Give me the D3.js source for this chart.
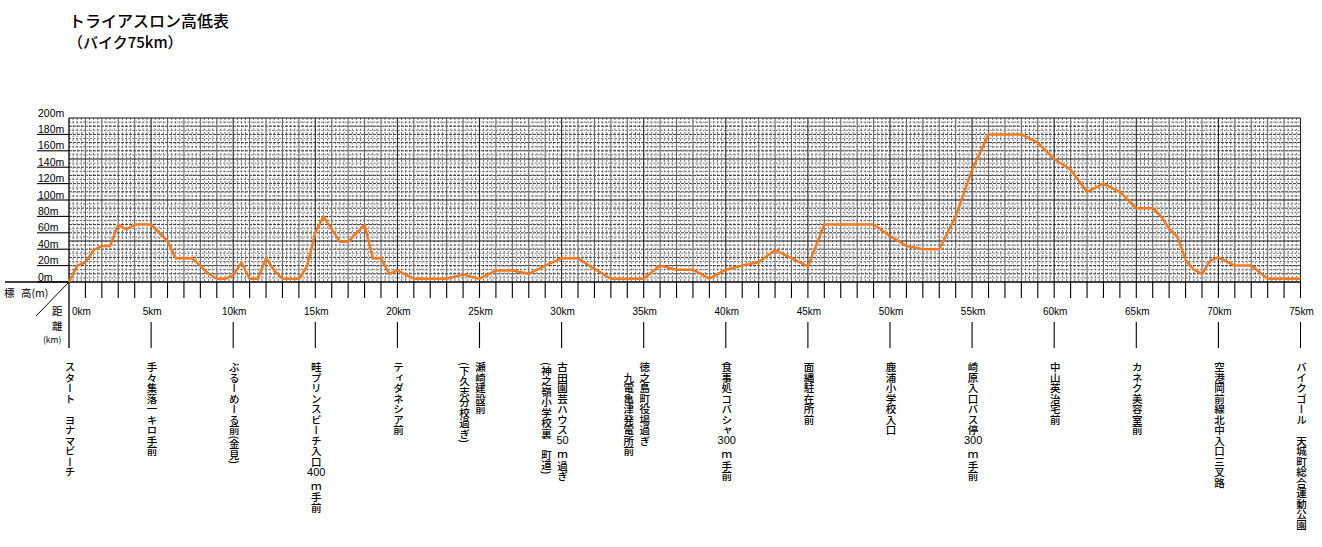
<!DOCTYPE html>
<html>
<head>
<meta charset="utf-8">
<script src="https://cdn.jsdelivr.net/npm/d3@7"></script>
<style>
  body { margin: 0; background: #fff; }
  text { fill: #000; }
</style>
</head>
<body>
<svg id="chart"></svg>
<script>
// data: distance (km) and elevation (m)
const distKm = [0,0.5,1,1.5,2,2.5,3,3.5,4,5,6,6.5,7.5,8,8.5,9,9.5,10,10.5,11,11.5,12,12.5,13,14,14.5,15,15.5,16.5,17,18,18.5,19,19.5,20,21,23,24,25,26,27,28,29,30,31,32,33,35,36,37,38,39,40,41,42,43,45,46,49,50,51,52,53,54,55,56,58,59,60,61,62,63,64,65,66,66.5,67,67.5,68,68.5,69,69.5,70,71,72,73,75];
const elevM  = [0,20,24,39,44,44,70,64,70,70,50,29,29,20,10,4,4,8,24,4,4,29,14,4,4,19,60,80,49,49,70,29,29,10,14,4,4,9,4,14,14,10,20,29,29,16,4,4,20,15,15,4,15,20,24,39,19,70,70,56,44,40,40,80,137,180,180,170,150,137,110,120,110,90,90,80,65,55,27,15,10,26,30,20,20,4,4];

const elevTicks = [0,20,40,60,80,100,120,140,160,180,200];
const kmLabels = [0,5,10,15,20,25,30,35,40,45,50,55,60,65,70,75];
const landmarkKm = [0,5,10,15,20,25,30,35,40,45,50,55,60,65,70,75];
const landmarkText = [
  ["スタート　ヨナマビーチ"],
  ["手々集落一キロ手前"],
  ["ぶるーめーる前(金見)"],
  ["畦プリンスビーチ入口400ｍ手前"],
  ["ティダネシア前"],
  ["瀬崎建設前", "(下久志分校過ぎ)"],
  ["古田園芸ハウス50ｍ過ぎ", "(神之嶺小学校裏　町道)"],
  ["徳之島町役場過ぎ", "　九電亀津発電所前"],
  ["食事処コバシャ300ｍ手前"],
  ["面縄駐在所前"],
  ["鹿浦小学校入口"],
  ["崎原入口バス停300ｍ手前"],
  ["中山英治宅前"],
  ["カネク美容室前"],
  ["空港岡前線北中入口三叉路"],
  ["バイクゴール　天城町総合運動公園"]
];

//setting
const W = 1322, H = 547;
const jp = "'Noto Sans CJK JP', sans-serif";
const latin = "'Liberation Sans', Arial, sans-serif";
const svg = d3.select("#chart").attr("width", W).attr("height", H);
svg.append("rect").attr("width", W).attr("height", H).attr("fill", "#fff");

const x = d3.scaleLinear().domain([0, 75]).range([69, 1300.5]);
const y = d3.scaleLinear().domain([0, 200]).range([282, 118]);

// title
svg.append("text").attr("x", 69).attr("y", 27)
  .style("font-family", jp).style("font-size", "16px").style("font-weight", "500")
  .text("トライアスロン高低表");
svg.append("text").attr("x", 68).attr("y", 48)
  .style("font-family", jp).style("font-size", "15px").style("font-weight", "500")
  .text("（バイク75km）");

// grid
const grid = svg.append("g");
const minorX = d3.range(0, 300).map(i => i / 4).filter(v => v % 1 !== 0);
const minorY = d3.range(5, 200, 5).filter(v => v % 10 !== 0);
const tenY = d3.range(10, 200, 10).filter(v => v % 50 !== 0);

grid.selectAll(".mx").data(minorX).join("line")
  .attr("x1", d => x(d)).attr("x2", d => x(d)).attr("y1", y(200)).attr("y2", y(0))
  .attr("stroke", "#3a3a3a").attr("stroke-width", 0.7).attr("stroke-dasharray", "2,1.5");
grid.selectAll(".my").data(minorY).join("line")
  .attr("x1", x(0)).attr("x2", x(75)).attr("y1", d => y(d)).attr("y2", d => y(d))
  .attr("stroke", "#3a3a3a").attr("stroke-width", 0.7).attr("stroke-dasharray", "2,1.5");
grid.selectAll(".ty").data(tenY).join("line")
  .attr("x1", x(0)).attr("x2", x(75)).attr("y1", d => y(d)).attr("y2", d => y(d))
  .attr("stroke", "#222").attr("stroke-width", 0.9).attr("stroke-dasharray", "3,1");
grid.selectAll(".kx").data(d3.range(1, 75).filter(v => v % 5 !== 0)).join("line")
  .attr("x1", d => x(d)).attr("x2", d => x(d)).attr("y1", y(200)).attr("y2", y(0))
  .attr("stroke", "#666").attr("stroke-width", 1.1);
grid.selectAll(".fx").data(d3.range(5, 76, 5)).join("line")
  .attr("x1", d => x(d)).attr("x2", d => x(d)).attr("y1", y(200)).attr("y2", y(0))
  .attr("stroke", "#222").attr("stroke-width", 1.1);
grid.selectAll(".fy").data([50, 100, 150, 200]).join("line")
  .attr("x1", x(0)).attr("x2", x(75)).attr("y1", d => y(d)).attr("y2", d => y(d))
  .attr("stroke", "#111").attr("stroke-width", 1.2);

// y labels with underlines
svg.selectAll(".yl").data(elevTicks.filter(v => v < 200)).join("line")
  .attr("x1", 37).attr("x2", x(0)).attr("y1", d => y(d)).attr("y2", d => y(d))
  .attr("stroke", "#000").attr("stroke-width", 1.1);
svg.selectAll(".yt").data(elevTicks).join("text")
  .attr("x", 38).attr("y", d => y(d) - 1.5)
  .style("font-family", latin).style("font-size", "10.5px")
  .text(d => d + "m");

// axis frame
svg.append("line").attr("x1", 5).attr("x2", x(75)).attr("y1", y(0)).attr("y2", y(0))
  .attr("stroke", "#000").attr("stroke-width", 1.3);
svg.append("line").attr("x1", x(0)).attr("x2", x(0)).attr("y1", y(200)).attr("y2", 348)
  .attr("stroke", "#000").attr("stroke-width", 1.3);
svg.append("line").attr("x1", x(0)).attr("x2", 36).attr("y1", y(0)).attr("y2", 316)
  .attr("stroke", "#000").attr("stroke-width", 1);

// corner captions
const cap = svg.append("g").style("font-family", jp);
cap.append("text").attr("x", 4).attr("y", 297).style("font-size", "10.5px").text("標");
cap.append("text").attr("x", 21).attr("y", 297).style("font-size", "10.5px").text("高(m)");
cap.append("text").attr("x", 52).attr("y", 315).style("font-size", "10.5px").text("距");
cap.append("text").attr("x", 52).attr("y", 330).style("font-size", "10.5px").text("離");
cap.append("text").attr("x", 43).attr("y", 343).style("font-size", "8.5px").text("(km)");

// km ticks
svg.selectAll(".kt").data(d3.range(1, 76)).join("line")
  .attr("x1", d => x(d)).attr("x2", d => x(d)).attr("y1", y(0)).attr("y2", 298)
  .attr("stroke", "#000").attr("stroke-width", 1.1);
svg.selectAll(".kl").data(kmLabels).join("text")
  .attr("x", d => d === 0 ? x(0) + 3 : x(d) + 1)
  .attr("y", 315)
  .attr("text-anchor", d => d === 0 ? "start" : "middle")
  .style("font-family", latin).style("font-size", "10px")
  .text(d => d + "km");
svg.selectAll(".lt").data(landmarkKm.filter(v => v > 0)).join("line")
  .attr("x1", d => x(d)).attr("x2", d => x(d)).attr("y1", 322).attr("y2", 348)
  .attr("stroke", "#000").attr("stroke-width", 1.1);

// profile
const line = d3.line().x((d, i) => x(distKm[i])).y(d => y(d));
svg.append("path").datum(elevM).attr("d", line)
  .attr("fill", "none").attr("stroke", "#f47a20").attr("stroke-width", 2.5)
  .attr("stroke-linejoin", "round");

// landmark labels (vertical)
const fs = 10.5;
function vcol(g, str, cx, y0) {
  let cy = y0;
  str.split(/(\d+)/).filter(s => s.length).forEach(seg => {
    if (/^\d+$/.test(seg)) {
      g.append("text").attr("x", cx).attr("y", cy + fs * 0.85)
        .attr("text-anchor", "middle")
        .style("font-family", latin).style("font-size", "11px")
        .text(seg);
      cy += fs * 1.4;
    } else {
      const t = g.append("text").attr("x", cx).attr("y", cy)
        .style("writing-mode", "vertical-rl")
        .style("font-family", jp).style("font-size", fs + "px")
        .style("font-weight", "500")
        .text(seg);
      cy += t.node().getComputedTextLength();
    }
  });
}
const lg = svg.append("g");
landmarkKm.forEach((km, i) => {
  landmarkText[i].forEach((col, j) => {
    vcol(lg, col, x(km) + 1 - j * 16, 362);
  });
});
</script>
</body>
</html>
